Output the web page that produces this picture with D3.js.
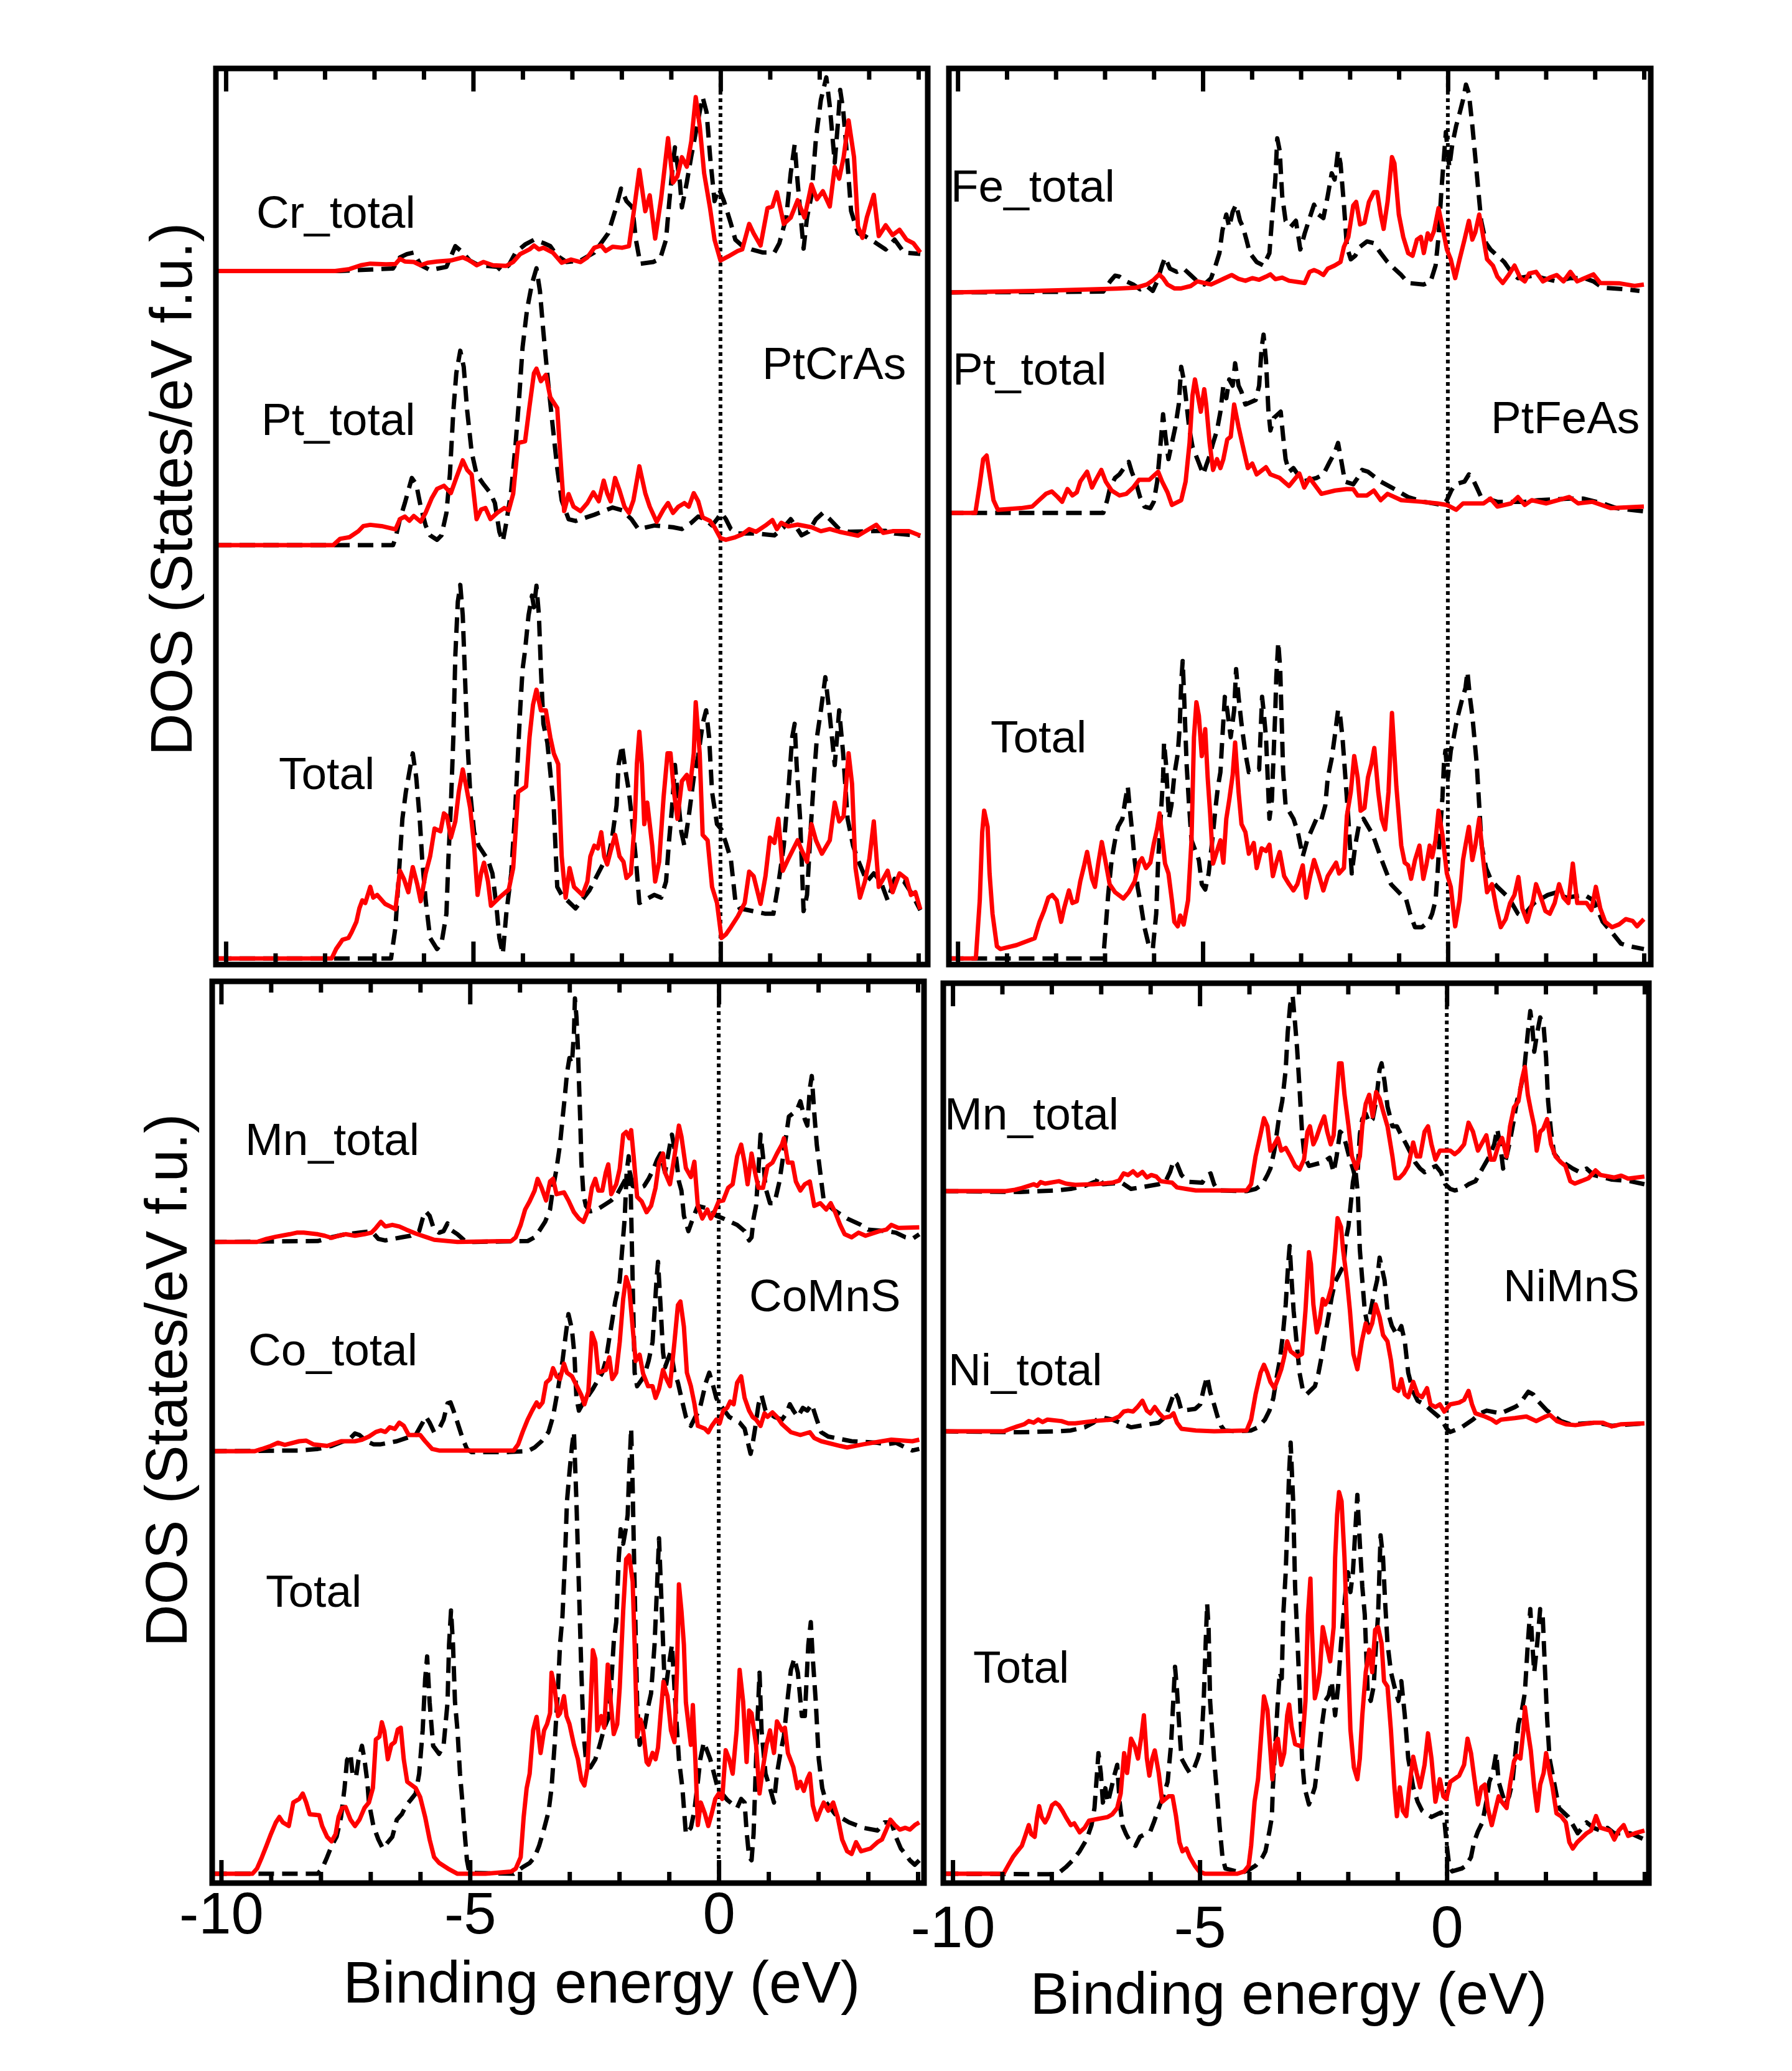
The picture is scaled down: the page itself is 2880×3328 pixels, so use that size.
<!DOCTYPE html>
<html><head><meta charset="utf-8">
<script src="https://cdn.jsdelivr.net/npm/d3@7"></script>
<style>body{margin:0;background:#fff}svg{display:block}text{font-family:"Liberation Sans",Arial,Helvetica,sans-serif}</style>
</head><body>
<svg id="c" width="2880" height="3328"></svg>
<script>
// ---------- tick values ----------
const energyTicks = d3.range(-10, 5);
const energyMajor = [-10, -5, 0];
const energyLabels = [-10, -5, 0];

// ---------- curve labels / compounds ----------
const compounds = ["PtCrAs", "PtFeAs", "CoMnS", "NiMnS"];
const curveNames = [["Cr_total","Pt_total","Total"],["Fe_total","Pt_total","Total"],["Mn_total","Co_total","Total"],["Mn_total","Ni_total","Total"]];
// stack offsets (percent of panel height) of each curve pair
const offsPtCrAs = [77.4, 46.8, 0.67];
const offsPtFeAs = [75.0, 50.4, 0.67];
const offsCoMnS  = [71.1, 47.9, 1.03];
const offsNiMnS  = [76.9, 50.2, 1.04];

// ---------- PtCrAs ----------
const crRed = [[-10.2,0],[-7.79,0],[-7.5,0.21],[-7.27,0.64],[-7.08,0.82],[-6.76,0.74],[-6.57,0.78],[-6.48,1.35],[-6.38,1.06],[-6.2,1.0],[-6.06,0.64],[-5.92,0.92],[-5.73,1.06],[-5.45,1.17],[-5.21,1.52],[-5.07,1.17],[-4.93,0.64],[-4.79,1.0],[-4.6,0.64],[-4.33,0.57],[-4.19,1.0],[-4.05,1.88],[-3.86,2.41],[-3.77,2.84],[-3.67,2.41],[-3.58,2.59],[-3.39,2.06],[-3.21,0.92],[-3.02,1.28],[-2.83,1.0],[-2.69,1.52],[-2.55,2.59],[-2.41,2.84],[-2.32,2.23],[-2.18,2.7],[-1.99,2.59],[-1.85,2.77],[-1.76,6.31],[-1.64,11.28],[-1.52,6.67],[-1.43,8.44],[-1.32,3.62],[-1.2,8.08],[-1.06,14.82],[-0.96,9.86],[-0.87,10.57],[-0.78,12.7],[-0.68,11.63],[-0.59,14.47],[-0.5,19.4],[-0.42,16.2],[-0.33,10.9],[-0.21,7.0],[-0.12,3.5],[0,1.17],[0.16,1.63],[0.35,2.23],[0.44,2.41],[0.58,5.25],[0.67,4.2],[0.81,2.84],[0.95,7.0],[1.05,7.2],[1.14,8.8],[1.28,5.25],[1.42,5.96],[1.56,7.9],[1.7,5.96],[1.84,9.65],[1.95,8.0],[2.07,8.9],[2.21,7.2],[2.31,11.6],[2.4,10.3],[2.49,12.7],[2.59,16.8],[2.7,12.7],[2.78,4.96],[2.87,3.7],[2.96,6.0],[3.1,8.5],[3.2,3.9],[3.34,5.1],[3.48,4.0],[3.62,4.6],[3.76,3.5],[3.9,3.1],[4.04,2.07]];
const crBlack = [[-10.2,0],[-7.69,0],[-6.62,0.28],[-6.48,1.52],[-6.34,1.88],[-6.2,2.06],[-6.06,0.64],[-5.87,0.1],[-5.54,0.46],[-5.36,2.77],[-5.21,2.06],[-5.07,1.17],[-4.89,0.64],[-4.51,0.46],[-4.42,0],[-4.28,0.64],[-4.14,2.06],[-3.95,2.95],[-3.77,3.48],[-3.58,3.12],[-3.44,2.77],[-3.3,1.7],[-3.11,1.0],[-2.83,1.17],[-2.55,2.06],[-2.27,4.2],[-2.13,6.7],[-2.01,9.2],[-1.9,7.8],[-1.78,7.1],[-1.71,3.5],[-1.62,0.8],[-1.36,1.0],[-1.22,1.35],[-1.1,3.5],[-1.04,7.4],[-0.96,12.0],[-0.92,13.8],[-0.82,9.9],[-0.78,7.1],[-0.68,9.9],[-0.59,12.8],[-0.45,16.9],[-0.36,19.4],[-0.28,17.7],[-0.21,12.8],[-0.12,7.8],[-0.03,9.2],[0.07,7.8],[0.21,5.3],[0.3,3.5],[0.44,2.8],[0.63,2.4],[0.86,2.06],[1.09,2.06],[1.19,3.1],[1.33,5.96],[1.42,10.9],[1.5,14.1],[1.56,9.9],[1.64,4.96],[1.68,2.5],[1.75,5.96],[1.84,8.4],[1.93,14.8],[2.03,19.1],[2.14,21.6],[2.21,18.4],[2.31,12.1],[2.38,16.9],[2.42,20.2],[2.48,18.0],[2.54,14.1],[2.64,6.7],[2.78,4.2],[2.92,3.9],[3.15,3.1],[3.34,2.4],[3.52,3.5],[3.71,2.06],[4.04,1.9]];
const ptCrRed = [[-10.2,0],[-7.83,0],[-7.69,0.71],[-7.5,0.89],[-7.32,1.56],[-7.22,2.13],[-7.08,2.27],[-6.85,2.13],[-6.57,1.77],[-6.48,2.91],[-6.38,3.19],[-6.29,2.73],[-6.2,3.26],[-6.06,2.62],[-5.96,3.62],[-5.84,5.21],[-5.73,6.28],[-5.59,6.63],[-5.45,5.82],[-5.34,7.52],[-5.21,9.47],[-5.12,8.4],[-5.03,7.87],[-4.93,2.91],[-4.84,3.97],[-4.75,4.15],[-4.65,2.91],[-4.51,3.62],[-4.37,4.15],[-4.28,3.9],[-4.19,5.74],[-4.09,11.4],[-3.95,11.6],[-3.86,15.5],[-3.77,19.2],[-3.72,19.7],[-3.63,18.3],[-3.53,19.0],[-3.44,16.5],[-3.3,15.3],[-3.21,7.7],[-3.16,3.8],[-3.07,5.7],[-2.97,4.3],[-2.83,3.8],[-2.69,4.7],[-2.57,5.9],[-2.46,4.9],[-2.36,7.2],[-2.29,5.8],[-2.22,4.9],[-2.13,7.5],[-2.04,6.1],[-1.94,4.3],[-1.85,3.6],[-1.76,5.0],[-1.64,8.8],[-1.52,5.8],[-1.43,4.3],[-1.29,2.6],[-1.15,4.0],[-1.06,4.7],[-0.96,3.6],[-0.85,4.3],[-0.73,4.7],[-0.64,4.3],[-0.54,5.8],[-0.45,4.9],[-0.36,3.1],[-0.21,2.7],[-0.12,2.0],[0,0.78],[0.11,0.6],[0.3,0.89],[0.44,1.2],[0.58,1.8],[0.72,1.5],[0.91,2.2],[1.05,2.8],[1.14,1.8],[1.23,2.5],[1.37,2.1],[1.56,2.3],[1.84,2.0],[2.03,1.56],[2.21,1.8],[2.4,1.5],[2.78,1.06],[2.96,1.66],[3.15,2.27],[3.29,1.38],[3.48,1.56],[3.81,1.56],[4.04,1.06]];
const ptCrBlack = [[-10.2,0],[-6.62,0],[-6.57,0.78],[-6.48,2.9],[-6.38,4.7],[-6.24,7.5],[-6.15,6.8],[-6.06,4.3],[-5.96,2.2],[-5.87,1.1],[-5.73,0.6],[-5.64,1.1],[-5.54,3.6],[-5.47,7.9],[-5.4,15.0],[-5.34,19.2],[-5.26,21.7],[-5.19,19.9],[-5.12,15.0],[-5.03,10.4],[-4.93,7.9],[-4.79,6.8],[-4.65,5.8],[-4.56,4.7],[-4.47,1.5],[-4.4,0.4],[-4.33,2.5],[-4.23,6.1],[-4.14,11.4],[-4.07,16.4],[-4.0,22.1],[-3.91,26.3],[-3.81,29.2],[-3.72,30.9],[-3.65,28.4],[-3.58,23.8],[-3.49,18.5],[-3.39,13.2],[-3.3,8.6],[-3.21,5.0],[-3.07,2.9],[-2.93,2.7],[-2.55,3.4],[-2.18,4.2],[-1.99,3.9],[-1.8,2.9],[-1.66,1.8],[-1.33,2.2],[-0.96,2.0],[-0.78,1.8],[-0.59,2.5],[-0.45,3.2],[-0.31,2.9],[-0.17,2.2],[-0.07,2.9],[0.02,3.6],[0.11,2.9],[0.21,1.8],[0.35,1.3],[0.72,1.3],[1.09,1.1],[1.28,2.0],[1.42,2.9],[1.51,2.2],[1.64,1.1],[1.78,1.5],[1.93,2.9],[2.07,3.6],[2.21,2.9],[2.4,1.8],[2.59,1.5],[3.34,1.6],[3.52,1.3],[4.04,1.06]];
const totCrRed = [[-10.2,0],[-7.86,0],[-7.77,1.06],[-7.64,2.1],[-7.52,2.3],[-7.46,2.9],[-7.36,4.1],[-7.3,5.6],[-7.24,6.5],[-7.18,6.2],[-7.08,8.0],[-7.02,6.8],[-6.94,7.1],[-6.78,6.1],[-6.67,5.8],[-6.57,5.5],[-6.48,9.8],[-6.4,8.9],[-6.31,7.4],[-6.22,10.2],[-6.13,8.3],[-6.06,6.4],[-5.96,9.5],[-5.87,11.4],[-5.78,14.5],[-5.66,14.2],[-5.59,16.2],[-5.53,15.9],[-5.45,13.5],[-5.36,15.3],[-5.29,18.6],[-5.21,21.1],[-5.14,19.2],[-5.06,16.8],[-4.98,12.6],[-4.91,7.1],[-4.84,9.5],[-4.78,10.7],[-4.7,8.6],[-4.64,5.9],[-4.47,6.8],[-4.28,7.7],[-4.19,10.1],[-4.09,18.6],[-3.93,19.2],[-3.86,24.7],[-3.79,28.3],[-3.72,30.0],[-3.63,27.7],[-3.53,27.7],[-3.44,24.7],[-3.37,22.9],[-3.28,21.7],[-3.21,11.4],[-3.13,6.8],[-3.05,10.1],[-2.96,8.0],[-2.79,7.1],[-2.69,8.6],[-2.63,11.4],[-2.55,12.6],[-2.48,12.3],[-2.41,14.1],[-2.35,11.4],[-2.29,10.5],[-2.22,12.0],[-2.13,13.8],[-2.04,11.4],[-1.96,10.8],[-1.9,9.0],[-1.81,9.5],[-1.73,15.6],[-1.69,21.7],[-1.64,25.3],[-1.59,21.7],[-1.54,15.0],[-1.48,17.4],[-1.38,12.6],[-1.32,8.6],[-1.24,10.8],[-1.15,18.0],[-1.07,22.9],[-1.01,22.9],[-0.94,18.6],[-0.87,15.6],[-0.78,19.8],[-0.68,20.5],[-0.62,18.9],[-0.54,22.9],[-0.5,28.6],[-0.42,22.9],[-0.36,13.8],[-0.26,13.2],[-0.17,8.0],[-0.07,6.2],[0.02,2.3],[0.11,2.7],[0.21,3.5],[0.35,4.7],[0.49,6.2],[0.58,9.7],[0.67,9.2],[0.81,6.1],[0.91,9.2],[1.0,13.5],[1.09,12.9],[1.17,15.6],[1.26,9.8],[1.37,11.1],[1.56,13.2],[1.65,12.0],[1.75,10.8],[1.84,15.0],[1.93,13.2],[2.05,11.7],[2.21,13.2],[2.31,17.4],[2.4,15.3],[2.49,15.9],[2.59,22.9],[2.66,19.5],[2.73,10.1],[2.82,6.8],[2.92,8.6],[3.01,11.1],[3.1,15.3],[3.2,8.0],[3.29,8.9],[3.38,9.8],[3.48,7.4],[3.62,9.5],[3.76,8.9],[3.85,7.1],[3.94,7.4],[4.04,5.5]];
const totCrBlack = [[-10.2,0],[-6.66,0],[-6.57,3.5],[-6.5,9.5],[-6.43,15.6],[-6.36,18.6],[-6.29,20.8],[-6.22,22.9],[-6.15,20.2],[-6.08,15.6],[-6.03,11.1],[-5.96,6.5],[-5.87,2.3],[-5.73,1.06],[-5.64,1.7],[-5.54,5.0],[-5.5,11.1],[-5.45,17.1],[-5.4,24.7],[-5.36,33.8],[-5.31,39.8],[-5.26,41.7],[-5.21,38.3],[-5.17,32.3],[-5.12,24.7],[-5.06,18.6],[-4.98,14.1],[-4.89,12.6],[-4.7,11.0],[-4.61,9.5],[-4.53,5.9],[-4.47,2.3],[-4.4,0.5],[-4.33,5.0],[-4.23,9.5],[-4.16,15.6],[-4.09,23.2],[-4.05,27.7],[-4.0,32.3],[-3.95,34.4],[-3.88,38.3],[-3.81,40.5],[-3.77,39.2],[-3.72,41.6],[-3.67,38.3],[-3.63,32.3],[-3.58,26.2],[-3.5,24.1],[-3.44,20.8],[-3.37,16.8],[-3.3,8.0],[-3.21,7.1],[-2.93,5.6],[-2.65,7.6],[-2.36,10.7],[-2.27,11.3],[-2.2,13.1],[-2.1,17.1],[-2.06,21.6],[-1.99,23.8],[-1.92,21.0],[-1.85,18.6],[-1.79,15.6],[-1.71,11.1],[-1.64,6.2],[-1.34,7.1],[-1.2,6.8],[-1.1,8.6],[-1.04,13.1],[-0.98,16.8],[-0.92,21.6],[-0.87,18.6],[-0.79,14.1],[-0.73,12.6],[-0.64,15.9],[-0.54,20.2],[-0.45,22.6],[-0.36,26.2],[-0.29,27.7],[-0.23,24.7],[-0.17,18.6],[-0.07,15.0],[0.02,14.4],[0.11,12.9],[0.21,11.1],[0.3,6.5],[0.39,5.6],[0.91,5.0],[1.07,5.0],[1.17,8.3],[1.28,12.6],[1.37,18.6],[1.45,24.7],[1.5,26.2],[1.54,21.6],[1.61,15.6],[1.68,5.3],[1.75,7.1],[1.82,14.1],[1.89,20.2],[1.95,24.7],[2.03,27.7],[2.12,31.4],[2.21,27.1],[2.31,21.6],[2.4,27.7],[2.48,22.9],[2.57,15.6],[2.68,12.6],[2.78,11.0],[2.87,9.8],[2.96,8.6],[3.1,9.5],[3.24,8.6],[3.38,6.5],[3.52,8.9],[3.71,8.6],[3.85,7.4],[4.04,5.4]];

// ---------- PtFeAs ----------
const feRed = [[-10.2,0],[-8.43,0.18],[-7.5,0.32],[-6.75,0.43],[-6.37,0.53],[-6.14,0.89],[-6.0,1.42],[-5.89,2.02],[-5.81,1.6],[-5.72,0.89],[-5.58,0.46],[-5.44,0.46],[-5.25,0.71],[-5.11,1.24],[-4.97,1.06],[-4.83,0.89],[-4.69,1.24],[-4.55,1.6],[-4.41,1.95],[-4.27,1.52],[-4.13,1.31],[-3.99,1.6],[-3.85,1.42],[-3.71,1.77],[-3.62,2.02],[-3.52,1.49],[-3.38,1.66],[-3.24,1.31],[-2.92,1.06],[-2.82,2.3],[-2.73,2.5],[-2.64,2.3],[-2.54,1.95],[-2.45,2.66],[-2.31,3.0],[-2.19,3.4],[-2.12,5.1],[-2.03,6.2],[-1.93,9.7],[-1.87,10.1],[-1.79,7.6],[-1.7,7.8],[-1.61,10.1],[-1.51,11.2],[-1.44,11.2],[-1.37,8.7],[-1.31,7.1],[-1.23,10.1],[-1.14,15.1],[-1.09,14.4],[-1.0,8.7],[-0.91,6.2],[-0.81,4.4],[-0.72,4.1],[-0.63,5.9],[-0.55,6.2],[-0.49,4.4],[-0.41,6.6],[-0.35,5.9],[-0.28,6.9],[-0.19,9.4],[-0.11,7.3],[-0.02,4.8],[0.06,3.7],[0.15,1.6],[0.24,3.7],[0.34,5.9],[0.43,8.0],[0.5,5.9],[0.56,6.7],[0.64,8.7],[0.71,6.6],[0.8,3.7],[0.92,3.0],[1.01,1.77],[1.12,1.06],[1.24,1.95],[1.36,3.0],[1.48,1.6],[1.57,1.24],[1.66,2.13],[1.8,2.3],[1.94,1.24],[2.08,1.66],[2.22,1.95],[2.36,1.24],[2.5,2.3],[2.64,1.24],[2.97,2.02],[3.11,1.06],[3.49,1.03],[3.81,0.74],[4.0,0.89]];
const feBlack = [[-10.2,0],[-7.03,0.1],[-6.89,1.24],[-6.79,1.88],[-6.7,1.77],[-6.56,1.24],[-6.42,0.89],[-6.28,0.35],[-6.14,0.71],[-6.02,0.18],[-5.93,1.24],[-5.83,3.0],[-5.77,3.9],[-5.67,2.66],[-5.53,2.3],[-5.39,2.66],[-5.25,1.95],[-5.11,1.24],[-4.97,0.89],[-4.83,1.6],[-4.74,3.0],[-4.66,4.4],[-4.6,6.9],[-4.52,8.7],[-4.46,7.3],[-4.39,9.0],[-4.32,9.8],[-4.24,8.0],[-4.18,7.3],[-4.11,5.9],[-4.04,4.4],[-3.9,3.4],[-3.76,3.0],[-3.64,4.4],[-3.59,8.0],[-3.52,12.6],[-3.48,17.2],[-3.43,15.8],[-3.38,10.8],[-3.31,8.0],[-3.21,7.3],[-3.1,8.0],[-3.01,4.8],[-2.92,6.6],[-2.82,8.3],[-2.73,9.8],[-2.64,8.7],[-2.54,8.3],[-2.45,10.8],[-2.37,13.3],[-2.31,12.6],[-2.24,15.8],[-2.19,14.4],[-2.12,9.8],[-2.06,5.1],[-1.98,3.7],[-1.89,4.1],[-1.79,5.1],[-1.65,5.7],[-1.51,5.5],[-1.37,4.4],[-1.23,3.4],[-1.09,2.66],[-0.95,1.95],[-0.81,1.06],[-0.49,0.89],[-0.35,1.24],[-0.25,3.0],[-0.19,6.2],[-0.13,11.5],[-0.08,15.1],[-0.04,17.9],[0.03,14.0],[0.09,16.5],[0.17,18.6],[0.24,20.0],[0.31,21.5],[0.37,23.2],[0.43,22.2],[0.5,18.6],[0.56,15.1],[0.62,11.5],[0.68,8.0],[0.78,5.5],[0.87,4.8],[1.01,4.1],[1.15,3.4],[1.29,2.3],[1.43,1.6],[1.76,1.88],[1.94,1.6],[2.22,1.24],[2.5,1.6],[2.79,1.6],[2.97,1.24],[3.16,0.53],[3.63,0.35],[3.91,0.18]];
const ptFeRed = [[-10.2,0],[-9.64,0],[-9.55,3.2],[-9.48,6.0],[-9.41,6.4],[-9.35,4.3],[-9.27,1.42],[-9.18,0.35],[-8.71,0.53],[-8.48,0.71],[-8.34,1.42],[-8.2,2.13],[-8.08,2.4],[-7.96,1.77],[-7.87,1.24],[-7.76,2.66],[-7.66,1.95],[-7.57,2.3],[-7.5,3.5],[-7.36,4.6],[-7.26,2.84],[-7.2,3.5],[-7.07,4.8],[-6.98,3.5],[-6.86,2.5],[-6.7,1.95],[-6.56,2.13],[-6.42,2.84],[-6.3,3.7],[-6.09,3.7],[-5.91,4.6],[-5.83,3.5],[-5.72,2.3],[-5.63,0.89],[-5.44,1.42],[-5.35,3.5],[-5.27,7.8],[-5.21,13.1],[-5.16,14.9],[-5.09,12.8],[-5.04,11.3],[-4.97,13.8],[-4.93,12.1],[-4.86,7.8],[-4.79,4.8],[-4.71,6.0],[-4.64,5.0],[-4.58,6.0],[-4.5,8.2],[-4.43,8.5],[-4.36,12.1],[-4.27,9.6],[-4.18,7.4],[-4.08,5.0],[-3.99,5.5],[-3.9,4.3],[-3.71,5.1],[-3.62,4.3],[-3.43,3.9],[-3.24,3.0],[-3.03,4.4],[-2.93,2.84],[-2.82,3.9],[-2.58,2.13],[-2.3,2.5],[-2.07,2.66],[-1.93,2.66],[-1.84,1.95],[-1.65,1.95],[-1.51,2.5],[-1.37,1.42],[-1.23,2.13],[-0.95,1.42],[-0.53,1.24],[-0.21,1.06],[-0.02,0.89],[0.17,0.35],[0.31,1.06],[0.73,1.06],[0.87,1.6],[1.01,0.71],[1.29,1.06],[1.43,1.77],[1.57,0.89],[1.71,1.42],[2.01,1.06],[2.24,1.42],[2.48,1.77],[2.66,1.06],[2.95,1.24],[3.33,0.53],[4.0,0.71]];
const ptFeBlack = [[-10.2,0],[-7.03,0],[-6.95,1.42],[-6.89,2.84],[-6.79,3.9],[-6.7,4.3],[-6.61,5.0],[-6.51,5.7],[-6.45,4.6],[-6.37,3.5],[-6.28,1.77],[-6.19,0.71],[-6.07,0.53],[-6.0,1.24],[-5.93,3.5],[-5.86,7.8],[-5.81,11.0],[-5.76,8.5],[-5.7,6.0],[-5.63,7.8],[-5.56,9.6],[-5.49,12.1],[-5.44,16.3],[-5.39,14.9],[-5.35,13.1],[-5.28,9.6],[-5.21,7.4],[-5.11,6.0],[-4.99,4.3],[-4.93,5.3],[-4.86,6.4],[-4.79,7.8],[-4.71,9.2],[-4.64,11.3],[-4.58,14.2],[-4.52,12.8],[-4.46,14.9],[-4.39,14.2],[-4.34,16.7],[-4.27,14.2],[-4.21,13.5],[-4.13,12.1],[-3.92,12.6],[-3.85,14.2],[-3.8,18.4],[-3.76,19.9],[-3.71,17.0],[-3.66,11.3],[-3.62,9.2],[-3.55,10.6],[-3.41,11.3],[-3.36,8.5],[-3.31,6.0],[-3.24,4.6],[-3.15,5.0],[-2.96,3.5],[-2.68,3.9],[-2.54,4.3],[-2.41,5.7],[-2.31,6.7],[-2.24,7.8],[-2.17,5.7],[-2.1,3.5],[-1.93,3.2],[-1.84,3.9],[-1.75,4.8],[-1.63,4.6],[-1.37,3.5],[-1.09,2.66],[-0.81,1.77],[-0.49,1.24],[-0.11,0.89],[-0.02,1.42],[0.07,2.5],[0.15,3.2],[0.34,3.5],[0.43,4.3],[0.5,3.9],[0.59,2.84],[0.68,1.77],[1.01,1.24],[1.57,1.24],[1.85,1.42],[2.48,1.6],[2.76,1.6],[3.16,1.06],[3.44,0.53],[4.0,0.18]];
const totFeRed = [[-10.2,0],[-9.63,0],[-9.55,6.5],[-9.5,14.1],[-9.46,16.5],[-9.39,14.7],[-9.35,9.5],[-9.29,5.0],[-9.2,1.36],[-9.13,1.06],[-8.8,1.5],[-8.43,2.27],[-8.33,4.1],[-8.24,5.3],[-8.15,6.8],[-8.07,7.1],[-7.98,6.5],[-7.89,4.1],[-7.83,5.6],[-7.73,7.6],[-7.66,6.2],[-7.57,6.4],[-7.5,8.6],[-7.42,10.4],[-7.36,11.9],[-7.26,8.9],[-7.2,8.0],[-7.13,10.7],[-7.06,13.0],[-6.99,11.0],[-6.9,8.3],[-6.79,7.4],[-6.62,6.7],[-6.51,7.4],[-6.39,8.6],[-6.3,10.7],[-6.24,11.2],[-6.16,10.1],[-6.07,10.7],[-6.0,12.8],[-5.93,14.5],[-5.88,16.2],[-5.83,13.6],[-5.77,10.6],[-5.7,9.5],[-5.63,6.5],[-5.58,4.1],[-5.51,3.6],[-5.46,4.8],[-5.39,3.8],[-5.3,6.5],[-5.23,13.2],[-5.18,24.7],[-5.13,28.6],[-5.08,27.1],[-5.02,22.6],[-4.95,25.6],[-4.9,20.2],[-4.85,16.2],[-4.79,10.6],[-4.71,12.0],[-4.64,13.2],[-4.58,10.7],[-4.52,15.6],[-4.46,17.7],[-4.39,20.5],[-4.34,24.1],[-4.27,18.6],[-4.21,15.0],[-4.13,14.1],[-4.06,11.7],[-3.96,12.9],[-3.9,10.1],[-3.8,12.3],[-3.71,12.0],[-3.64,12.7],[-3.57,9.2],[-3.5,10.7],[-3.43,11.9],[-3.34,9.2],[-3.24,8.3],[-3.15,7.6],[-3.07,8.3],[-3.01,9.5],[-2.96,10.4],[-2.89,6.8],[-2.82,8.9],[-2.73,11.0],[-2.64,9.5],[-2.54,7.6],[-2.45,9.2],[-2.28,10.7],[-2.22,9.5],[-2.12,10.1],[-2.06,15.9],[-1.98,18.6],[-1.91,22.6],[-1.84,20.2],[-1.78,16.5],[-1.7,16.8],[-1.63,20.2],[-1.56,21.7],[-1.5,23.5],[-1.42,18.6],[-1.35,15.6],[-1.28,14.4],[-1.21,18.6],[-1.14,27.4],[-1.05,19.2],[-0.95,12.6],[-0.88,10.7],[-0.81,10.4],[-0.75,8.9],[-0.67,11.0],[-0.58,12.6],[-0.5,8.9],[-0.44,10.4],[-0.37,12.6],[-0.32,11.3],[-0.25,13.2],[-0.19,16.5],[-0.11,13.8],[-0.02,9.5],[0.06,8.0],[0.15,3.6],[0.24,6.5],[0.31,11.0],[0.36,12.6],[0.43,14.7],[0.5,11.0],[0.56,12.6],[0.64,15.6],[0.71,11.6],[0.8,7.4],[0.9,8.3],[0.99,5.6],[1.08,3.5],[1.18,4.4],[1.27,6.2],[1.36,7.1],[1.44,9.1],[1.52,5.6],[1.62,4.1],[1.74,6.5],[1.8,8.3],[1.9,6.8],[1.99,5.3],[2.08,5.0],[2.18,6.2],[2.27,8.3],[2.36,6.8],[2.46,6.2],[2.55,10.6],[2.64,6.2],[2.83,6.2],[2.93,5.4],[3.02,8.0],[3.11,5.6],[3.21,4.1],[3.35,3.5],[3.49,3.8],[3.63,4.4],[3.77,4.2],[3.86,3.6],[4.0,4.4]];
const totFeBlack = [[-10.2,0],[-7.03,0],[-6.98,3.5],[-6.93,7.1],[-6.86,11.0],[-6.79,13.2],[-6.73,14.7],[-6.64,15.6],[-6.58,17.7],[-6.53,19.2],[-6.49,16.8],[-6.44,14.1],[-6.39,11.0],[-6.33,8.0],[-6.26,5.9],[-6.19,3.5],[-6.11,1.67],[-6.02,1.06],[-5.95,5.0],[-5.91,11.0],[-5.86,15.6],[-5.81,20.2],[-5.79,24.1],[-5.75,21.7],[-5.69,15.6],[-5.64,17.1],[-5.58,20.5],[-5.51,22.9],[-5.47,25.9],[-5.44,30.8],[-5.41,33.2],[-5.38,29.2],[-5.33,21.7],[-5.28,17.1],[-5.23,13.2],[-5.08,11.0],[-5.02,8.3],[-4.95,7.7],[-4.88,9.5],[-4.8,13.5],[-4.74,16.8],[-4.69,19.2],[-4.64,20.8],[-4.6,24.7],[-4.55,29.2],[-4.5,27.7],[-4.43,24.7],[-4.36,27.7],[-4.32,32.3],[-4.27,29.2],[-4.21,26.2],[-4.13,22.9],[-4.06,20.8],[-3.85,21.1],[-3.79,29.2],[-3.76,27.7],[-3.71,24.7],[-3.64,15.6],[-3.59,17.7],[-3.52,27.7],[-3.5,31.4],[-3.46,35.3],[-3.42,32.3],[-3.36,20.8],[-3.31,17.1],[-3.15,15.6],[-3.06,14.1],[-2.96,11.4],[-2.87,13.2],[-2.68,15.6],[-2.59,15.3],[-2.5,17.1],[-2.45,20.2],[-2.37,22.3],[-2.31,24.7],[-2.24,27.7],[-2.21,27.7],[-2.15,24.7],[-2.09,20.2],[-2.03,15.6],[-1.96,9.5],[-1.89,12.6],[-1.81,15.0],[-1.72,15.6],[-1.53,13.8],[-1.35,11.0],[-1.16,8.3],[-0.95,7.1],[-0.86,6.8],[-0.77,5.0],[-0.67,3.5],[-0.53,3.5],[-0.39,4.1],[-0.32,5.0],[-0.25,6.5],[-0.21,9.5],[-0.16,14.1],[-0.11,18.0],[-0.08,21.7],[-0.05,23.2],[0.0,20.2],[0.06,23.2],[0.12,24.7],[0.17,26.2],[0.22,27.4],[0.29,28.9],[0.36,30.2],[0.4,32.0],[0.45,29.2],[0.5,27.1],[0.54,24.7],[0.59,21.7],[0.64,17.1],[0.69,12.6],[0.78,10.1],[0.87,8.9],[1.01,8.0],[1.24,6.8],[1.43,5.0],[1.52,4.7],[1.62,5.3],[1.76,6.2],[2.04,7.1],[2.22,7.4],[2.41,6.8],[2.79,7.1],[2.97,6.5],[3.16,4.1],[3.35,2.9],[3.53,1.67],[3.72,1.36],[4.0,1.06]];

// ---------- CoMnS ----------
const mnCoRed = [[-10.2,0],[-9.28,0],[-9.09,0.34],[-8.9,0.58],[-8.62,0.86],[-8.48,1.03],[-8.34,1.03],[-8.06,0.86],[-7.92,0.69],[-7.78,0.45],[-7.64,0.69],[-7.5,0.86],[-7.31,0.69],[-7.12,0.86],[-6.98,1.03],[-6.89,1.55],[-6.79,2.23],[-6.7,1.72],[-6.56,1.89],[-6.42,1.72],[-6.28,1.37],[-6.09,0.93],[-5.9,0.58],[-5.72,0.24],[-5.25,0],[-4.17,0.1],[-4.08,0.52],[-3.98,1.89],[-3.89,3.6],[-3.8,4.5],[-3.7,5.7],[-3.64,7.0],[-3.56,6.0],[-3.47,4.6],[-3.39,6.7],[-3.33,7.0],[-3.26,5.3],[-3.11,5.5],[-3.02,4.6],[-2.91,3.3],[-2.81,2.6],[-2.72,2.23],[-2.62,3.6],[-2.55,6.0],[-2.48,7.0],[-2.42,5.7],[-2.34,5.7],[-2.27,7.7],[-2.22,8.6],[-2.16,5.3],[-2.06,6.4],[-1.99,8.1],[-1.92,11.9],[-1.86,12.2],[-1.8,11.5],[-1.76,12.4],[-1.71,9.5],[-1.64,5.0],[-1.55,4.5],[-1.45,3.3],[-1.36,4.0],[-1.27,6.0],[-1.2,8.8],[-1.12,9.8],[-1.08,7.7],[-0.98,6.4],[-0.89,9.5],[-0.8,12.9],[-0.75,11.7],[-0.66,8.2],[-0.56,7.2],[-0.49,8.9],[-0.42,4.0],[-0.33,2.6],[-0.23,3.6],[-0.16,2.6],[-0.09,3.3],[0,4.5],[0.09,4.6],[0.19,6.0],[0.28,6.4],[0.37,9.5],[0.45,10.8],[0.52,8.8],[0.58,6.4],[0.66,9.8],[0.73,7.7],[0.8,6.0],[0.89,6.0],[0.98,8.4],[1.08,8.8],[1.17,9.8],[1.27,10.8],[1.31,11.5],[1.39,8.8],[1.48,8.8],[1.55,6.7],[1.64,5.7],[1.73,6.4],[1.83,6.7],[1.92,4.0],[2.04,4.3],[2.16,3.6],[2.25,4.3],[2.34,3.3],[2.44,1.89],[2.53,0.86],[2.67,0.52],[2.81,1.03],[2.95,0.69],[3.23,1.2],[3.37,1.37],[3.47,1.89],[3.61,1.55],[4.03,1.62]];
const mnCoBlack = [[-10.2,0],[-8.06,0.1],[-7.78,0.52],[-7.5,0.86],[-7.22,1.03],[-6.98,1.2],[-6.84,0.34],[-6.7,0.17],[-6.37,0.52],[-6.19,0.69],[-6.02,1.2],[-5.95,2.6],[-5.89,3.4],[-5.81,2.9],[-5.72,1.37],[-5.62,1.03],[-5.53,1.2],[-5.45,2.06],[-5.39,1.37],[-5.25,0.86],[-5.11,0.17],[-4.97,0],[-3.84,0.1],[-3.7,0.52],[-3.61,1.2],[-3.49,2.23],[-3.39,3.6],[-3.33,6.0],[-3.26,8.1],[-3.19,10.8],[-3.14,13.6],[-3.09,16.3],[-3.05,18.7],[-3.0,20.4],[-2.95,19.8],[-2.91,23.2],[-2.89,27.0],[-2.86,25.0],[-2.83,21.5],[-2.81,18.0],[-2.78,12.9],[-2.76,8.8],[-2.72,5.3],[-2.67,4.0],[-2.58,3.4],[-2.44,3.6],[-2.3,4.1],[-2.16,4.6],[-2.04,5.3],[-1.97,6.0],[-1.9,6.7],[-1.83,7.4],[-1.78,7.6],[-1.73,6.2],[-1.59,6.0],[-1.5,6.2],[-1.41,7.0],[-1.31,8.1],[-1.24,9.1],[-1.17,9.8],[-1.08,7.7],[-0.98,10.8],[-0.94,11.9],[-0.86,9.5],[-0.8,6.7],[-0.75,5.7],[-0.7,2.9],[-0.61,1.2],[-0.52,2.6],[-0.42,4.0],[-0.14,3.6],[-0.05,2.9],[0.09,2.6],[0.37,1.89],[0.52,1.2],[0.61,0.17],[0.66,0.52],[0.7,2.6],[0.75,4.0],[0.8,8.1],[0.84,11.9],[0.89,9.5],[0.94,6.0],[1.03,4.3],[1.12,4.3],[1.22,6.7],[1.31,10.1],[1.41,13.9],[1.5,14.3],[1.59,14.9],[1.64,15.6],[1.73,13.6],[1.78,12.9],[1.83,17.0],[1.87,18.4],[1.92,14.3],[1.97,10.8],[2.04,7.7],[2.11,4.6],[2.3,3.6],[2.58,2.6],[2.86,1.89],[3.0,1.37],[3.37,1.2],[3.56,1.03],[3.75,0.52],[3.89,0.34],[4.03,0.86]];
const coRed = [[-10.2,0],[-9.32,0],[-9.18,0.24],[-9.0,0.58],[-8.86,0.93],[-8.72,0.69],[-8.43,1.1],[-8.29,1.17],[-8.15,0.76],[-7.87,0.58],[-7.59,1.1],[-7.31,1.1],[-7.17,1.27],[-7.03,1.62],[-6.89,2.13],[-6.79,2.3],[-6.7,2.13],[-6.61,2.65],[-6.51,2.47],[-6.42,3.16],[-6.33,2.82],[-6.23,1.79],[-6.0,1.79],[-5.9,1.1],[-5.76,0.24],[-5.62,0.07],[-4.12,0.07],[-4.03,0.76],[-3.94,2.13],[-3.84,3.5],[-3.75,4.5],[-3.66,5.4],[-3.61,4.9],[-3.54,5.4],[-3.47,7.6],[-3.39,8.0],[-3.33,9.2],[-3.26,8.3],[-3.19,8.0],[-3.11,9.7],[-3.05,8.7],[-2.95,8.3],[-2.86,7.3],[-2.76,6.2],[-2.7,5.2],[-2.62,6.6],[-2.55,13.1],[-2.48,12.0],[-2.42,8.7],[-2.27,9.0],[-2.2,10.4],[-2.14,8.0],[-2.06,8.7],[-1.99,12.1],[-1.92,16.9],[-1.86,19.3],[-1.8,18.2],[-1.73,13.7],[-1.67,10.0],[-1.59,10.7],[-1.52,8.6],[-1.42,7.2],[-1.33,7.2],[-1.27,5.9],[-1.2,6.9],[-1.12,9.0],[-1.05,8.0],[-0.98,7.2],[-0.89,12.1],[-0.82,16.2],[-0.77,16.6],[-0.7,13.8],[-0.64,8.7],[-0.56,7.2],[-0.49,5.3],[-0.42,2.8],[-0.28,2.5],[-0.21,2.1],[-0.14,2.8],[-0.05,3.5],[0.02,3.1],[0.09,4.5],[0.17,4.8],[0.23,5.5],[0.3,5.2],[0.37,7.6],[0.45,8.3],[0.52,5.9],[0.61,4.5],[0.68,3.8],[0.75,3.5],[0.84,2.8],[0.92,4.2],[0.98,3.8],[1.08,4.3],[1.17,3.8],[1.27,3.0],[1.45,2.1],[1.64,1.79],[1.83,2.1],[1.92,1.45],[2.06,1.1],[2.44,0.58],[2.58,0.41],[2.91,0.76],[3.28,1.1],[3.47,1.27],[3.89,1.1],[4.03,1.27]];
const coBlack = [[-10.2,0],[-8.43,0.07],[-8.06,0.24],[-7.78,0.58],[-7.54,1.1],[-7.4,1.45],[-7.31,1.96],[-7.22,1.79],[-7.08,1.1],[-6.94,0.76],[-6.79,0.76],[-6.47,1.1],[-6.28,1.45],[-6.09,1.79],[-5.95,3.16],[-5.89,3.85],[-5.81,3.16],[-5.72,2.1],[-5.62,2.47],[-5.53,3.5],[-5.45,5.3],[-5.39,5.4],[-5.33,4.5],[-5.25,3.16],[-5.15,1.45],[-5.06,0.24],[-4.97,-0.1],[-4.22,-0.1],[-3.84,0],[-3.7,0.41],[-3.56,1.1],[-3.42,2.13],[-3.33,3.85],[-3.23,6.9],[-3.14,10.0],[-3.07,13.1],[-3.02,15.2],[-2.95,13.5],[-2.9,10.7],[-2.86,5.9],[-2.81,4.5],[-2.74,5.2],[-2.53,6.9],[-2.34,8.7],[-2.27,10.0],[-2.2,12.5],[-2.14,14.5],[-2.08,16.6],[-1.99,18.9],[-1.94,22.4],[-1.89,25.8],[-1.85,31.0],[-1.81,32.7],[-1.77,29.2],[-1.73,18.9],[-1.69,8.7],[-1.64,7.2],[-1.5,8.3],[-1.41,10.0],[-1.33,12.1],[-1.29,15.5],[-1.25,19.0],[-1.22,21.0],[-1.17,16.2],[-1.12,11.0],[-1.08,9.3],[-0.96,11.1],[-0.89,8.7],[-0.82,7.6],[-0.75,5.9],[-0.66,3.8],[-0.56,2.8],[-0.47,3.8],[-0.39,4.5],[-0.33,5.9],[-0.26,7.6],[-0.19,8.7],[-0.11,7.2],[-0.05,5.9],[0.02,5.2],[0.21,3.8],[0.42,3.16],[0.52,2.5],[0.58,1.1],[0.64,-0.3],[0.68,0.76],[0.73,2.5],[0.8,5.2],[0.86,6.2],[0.94,4.5],[1.12,3.8],[1.27,3.5],[1.36,4.2],[1.43,5.2],[1.5,4.5],[1.59,3.8],[1.69,4.8],[1.78,4.5],[1.87,5.2],[1.97,3.5],[2.06,2.1],[2.2,1.62],[2.67,1.1],[3.19,0.93],[3.37,0.76],[3.56,0.93],[3.75,0.41],[3.89,0.07],[4.03,0.24]];
const totCoRed = [[-10.2,0],[-9.37,0],[-9.28,0.57],[-9.18,1.85],[-9.09,3.1],[-9.0,4.4],[-8.9,5.7],[-8.83,6.3],[-8.76,5.7],[-8.64,5.3],[-8.55,7.9],[-8.43,8.3],[-8.36,8.9],[-8.29,7.9],[-8.22,6.6],[-8.03,6.5],[-7.97,5.3],[-7.87,4.1],[-7.78,3.6],[-7.7,4.4],[-7.64,6.3],[-7.57,7.3],[-7.5,7.4],[-7.4,6.0],[-7.31,5.3],[-7.22,6.0],[-7.12,7.3],[-7.03,7.9],[-6.95,9.5],[-6.89,14.9],[-6.82,15.2],[-6.77,16.8],[-6.72,15.8],[-6.65,12.7],[-6.58,14.3],[-6.51,14.6],[-6.45,16.0],[-6.39,16.2],[-6.33,12.7],[-6.26,10.2],[-6.09,9.5],[-6.0,8.5],[-5.9,6.3],[-5.81,3.8],[-5.72,1.85],[-5.62,1.21],[-5.44,0.57],[-5.25,0],[-4.69,0],[-4.17,0.25],[-4.08,0.57],[-3.98,1.85],[-3.92,6.3],[-3.86,9.5],[-3.8,11.1],[-3.73,15.9],[-3.66,17.4],[-3.58,13.4],[-3.51,15.9],[-3.45,16.6],[-3.39,17.8],[-3.36,22.3],[-3.3,20.7],[-3.23,17.5],[-3.19,17.8],[-3.11,19.7],[-3.06,17.5],[-3.0,16.6],[-2.91,14.3],[-2.83,12.7],[-2.76,10.4],[-2.7,9.8],[-2.64,11.7],[-2.58,18.1],[-2.53,24.8],[-2.48,23.8],[-2.44,15.9],[-2.36,17.5],[-2.3,16.2],[-2.23,23.2],[-2.17,19.0],[-2.11,15.5],[-2.04,16.6],[-1.99,20.6],[-1.92,29.2],[-1.86,34.9],[-1.8,35.3],[-1.73,32.4],[-1.69,25.4],[-1.64,15.2],[-1.57,17.1],[-1.52,15.9],[-1.45,12.4],[-1.41,12.1],[-1.33,13.4],[-1.27,12.7],[-1.22,14.0],[-1.17,17.5],[-1.11,21.3],[-1.03,19.7],[-0.96,15.9],[-0.89,14.6],[-0.84,22.3],[-0.8,32.1],[-0.75,29.2],[-0.7,25.4],[-0.66,19.0],[-0.56,14.3],[-0.52,18.7],[-0.47,12.7],[-0.42,5.4],[-0.36,7.9],[-0.28,6.7],[-0.21,5.3],[-0.14,6.7],[-0.07,8.3],[0,8.9],[0.07,8.3],[0.14,13.7],[0.21,12.7],[0.28,11.1],[0.36,15.9],[0.42,22.6],[0.49,19.1],[0.56,12.4],[0.61,18.1],[0.66,17.8],[0.75,14.3],[0.82,8.9],[0.89,11.8],[0.96,14.3],[1.03,15.9],[1.11,13.4],[1.17,16.9],[1.27,15.9],[1.33,16.2],[1.39,13.4],[1.5,11.8],[1.58,9.5],[1.64,10.2],[1.71,9.2],[1.78,10.5],[1.83,11.1],[1.89,7.6],[1.97,6.0],[2.04,7.0],[2.11,7.9],[2.2,7.0],[2.3,7.9],[2.39,6.3],[2.48,3.8],[2.58,2.5],[2.67,2.2],[2.76,3.5],[2.86,2.5],[3.05,2.8],[3.19,3.5],[3.28,3.8],[3.36,4.8],[3.45,6.0],[3.54,5.4],[3.64,4.9],[3.75,5.1],[3.84,4.9],[3.94,5.4],[4.03,5.7]];
const totCoBlack = [[-10.2,0],[-8.06,0],[-7.97,0.57],[-7.87,1.85],[-7.78,3.1],[-7.68,4.1],[-7.59,6.3],[-7.52,9.5],[-7.47,12.6],[-7.4,13.3],[-7.36,11.1],[-7.29,10.7],[-7.24,12.6],[-7.17,14.2],[-7.12,12.7],[-7.06,10.1],[-7.03,7.9],[-6.94,5.3],[-6.84,3.8],[-6.75,2.8],[-6.65,3.5],[-6.56,4.1],[-6.47,6.0],[-6.37,6.6],[-6.28,7.6],[-6.19,8.2],[-6.09,8.9],[-6.02,11.1],[-5.95,15.9],[-5.9,21.6],[-5.86,24.1],[-5.81,19.0],[-5.74,14.2],[-5.62,13.3],[-5.53,14.2],[-5.45,19.0],[-5.42,25.4],[-5.38,29.2],[-5.34,25.4],[-5.3,19.0],[-5.25,15.9],[-5.2,11.1],[-5.15,7.9],[-5.11,4.8],[-5.06,1.5],[-5.01,0.1],[-4.12,0],[-3.94,0.73],[-3.8,1.2],[-3.7,1.85],[-3.61,3.1],[-3.51,5.0],[-3.42,6.9],[-3.36,9.5],[-3.3,14.2],[-3.23,20.6],[-3.19,25.4],[-3.14,28.6],[-3.09,34.9],[-3.05,41.3],[-3.0,44.5],[-2.95,47.4],[-2.91,49.0],[-2.86,41.3],[-2.81,31.8],[-2.76,22.3],[-2.72,15.9],[-2.67,12.7],[-2.58,11.8],[-2.48,12.7],[-2.39,14.3],[-2.3,16.2],[-2.2,17.5],[-2.11,25.7],[-2.06,27.9],[-2.01,34.9],[-1.97,38.2],[-1.92,36.6],[-1.87,38.2],[-1.83,39.8],[-1.8,44.5],[-1.76,49.4],[-1.73,42.9],[-1.69,31.8],[-1.64,19.0],[-1.59,14.3],[-1.5,15.9],[-1.42,18.5],[-1.36,20.0],[-1.29,25.4],[-1.24,31.8],[-1.2,37.2],[-1.14,28.7],[-1.08,20.0],[-1.0,23.2],[-0.94,25.4],[-0.86,17.8],[-0.8,12.7],[-0.73,9.5],[-0.66,4.4],[-0.56,5.1],[-0.49,7.0],[-0.42,10.2],[-0.37,12.7],[-0.3,14.6],[-0.17,12.7],[-0.02,9.5],[0.17,8.2],[0.37,7.3],[0.45,8.3],[0.52,7.9],[0.56,4.7],[0.61,1.85],[0.66,1.5],[0.7,4.4],[0.77,15.9],[0.82,22.3],[0.86,15.9],[0.94,11.1],[1.03,9.5],[1.11,7.9],[1.17,11.1],[1.24,13.4],[1.31,15.3],[1.39,19.7],[1.45,22.6],[1.52,23.9],[1.59,22.3],[1.67,17.5],[1.73,17.5],[1.8,25.4],[1.85,27.9],[1.89,23.9],[1.95,19.1],[2.01,12.7],[2.08,9.5],[2.16,7.9],[2.34,6.6],[2.62,5.7],[2.9,5.1],[3.19,4.8],[3.33,5.7],[3.47,5.7],[3.56,4.1],[3.66,2.8],[3.75,2.2],[3.84,1.5],[3.94,1.0],[4.03,1.5]];

// ---------- NiMnS ----------
const mnNiRed = [[-10.2,0],[-8.92,0],[-8.74,0.14],[-8.6,0.34],[-8.46,0.58],[-8.36,0.76],[-8.29,0.58],[-8.22,1.0],[-8.13,0.83],[-7.85,1.1],[-7.71,0.83],[-7.52,0.69],[-7.15,0.76],[-6.77,0.93],[-6.63,1.17],[-6.54,1.96],[-6.45,1.79],[-6.35,2.2],[-6.26,1.72],[-6.16,2.13],[-6.07,1.51],[-5.98,1.79],[-5.88,1.62],[-5.79,1.1],[-5.56,0.93],[-5.46,0.41],[-5.28,0.24],[-5.08,0.07],[-4.05,0.07],[-3.96,0.76],[-3.87,3.85],[-3.77,6.3],[-3.7,8.1],[-3.63,7.2],[-3.57,4.5],[-3.49,5.2],[-3.42,5.9],[-3.35,4.5],[-3.26,4.8],[-3.16,3.8],[-3.07,2.8],[-2.98,2.4],[-2.89,3.5],[-2.82,6.6],[-2.77,7.2],[-2.7,5.2],[-2.64,5.9],[-2.56,7.2],[-2.48,8.3],[-2.42,6.6],[-2.35,5.2],[-2.29,6.2],[-2.24,10.0],[-2.18,14.2],[-2.13,14.2],[-2.07,10.7],[-1.99,7.3],[-1.92,3.85],[-1.83,2.5],[-1.76,3.85],[-1.71,7.3],[-1.64,9.7],[-1.57,10.7],[-1.5,8.3],[-1.43,11.0],[-1.36,10.3],[-1.29,8.9],[-1.2,7.2],[-1.1,3.85],[-1.04,1.44],[-0.96,1.44],[-0.87,1.96],[-0.78,2.8],[-0.68,5.4],[-0.61,3.85],[-0.54,3.85],[-0.45,6.6],[-0.38,7.2],[-0.31,5.2],[-0.23,3.5],[-0.14,4.5],[0.07,4.5],[0.16,4.1],[0.25,4.5],[0.35,5.2],[0.44,7.6],[0.53,6.6],[0.63,4.5],[0.7,5.2],[0.8,6.2],[0.89,3.5],[0.96,3.5],[1.05,5.2],[1.12,5.9],[1.21,3.85],[1.28,7.2],[1.36,9.3],[1.45,10.0],[1.52,12.4],[1.58,13.8],[1.64,10.7],[1.7,9.0],[1.77,7.2],[1.82,4.5],[1.89,6.6],[1.95,6.9],[2.03,8.0],[2.11,5.2],[2.2,3.85],[2.31,3.2],[2.4,2.8],[2.5,1.1],[2.59,0.83],[2.87,1.44],[3.01,2.3],[3.11,1.79],[3.39,1.51],[3.53,1.72],[3.67,1.38],[4.0,1.62]];
const mnNiBlack = [[-10.2,0],[-8.64,-0.1],[-7.89,0.07],[-7.61,0.24],[-7.33,0.58],[-7.09,1.1],[-7.05,1.62],[-6.96,0.76],[-6.58,0.93],[-6.39,0.24],[-6.2,0.41],[-5.83,0.76],[-5.69,1.1],[-5.6,2.13],[-5.53,3.35],[-5.46,3.0],[-5.37,1.79],[-5.23,1.03],[-4.95,0.93],[-4.85,1.79],[-4.78,1.96],[-4.71,0.76],[-4.63,0.07],[-4.05,0],[-3.87,0.24],[-3.73,0.76],[-3.63,1.79],[-3.57,2.5],[-3.49,4.5],[-3.4,8.0],[-3.33,10.0],[-3.26,13.5],[-3.22,17.6],[-3.17,20.7],[-3.12,21.7],[-3.07,18.6],[-3.03,15.9],[-2.98,11.4],[-2.93,6.6],[-2.88,3.85],[-2.79,2.8],[-2.51,3.2],[-2.37,3.7],[-2.29,2.1],[-2.23,3.85],[-2.16,6.6],[-2.1,6.3],[-2.04,5.2],[-1.96,3.5],[-1.9,2.5],[-1.85,1.44],[-1.8,2.5],[-1.76,6.3],[-1.71,8.0],[-1.64,8.6],[-1.57,7.6],[-1.5,8.0],[-1.43,10.0],[-1.36,13.5],[-1.32,14.2],[-1.26,12.2],[-1.2,9.4],[-1.1,7.2],[-1.01,7.2],[-0.92,6.2],[-0.82,5.2],[-0.73,4.2],[-0.64,3.2],[-0.54,2.5],[-0.45,2.1],[-0.33,2.5],[-0.22,2.8],[-0.12,2.1],[-0.03,0.76],[0.07,0.24],[0.16,0.07],[0.3,0.24],[0.44,0.76],[0.58,1.1],[0.72,2.5],[0.86,3.85],[0.96,5.2],[1.02,6.9],[1.08,5.2],[1.14,2.5],[1.21,3.85],[1.28,5.6],[1.36,8.0],[1.42,10.0],[1.49,11.4],[1.56,13.1],[1.64,17.6],[1.69,20.0],[1.73,18.3],[1.77,15.5],[1.83,17.6],[1.89,19.3],[1.96,18.3],[2.01,14.8],[2.05,10.0],[2.11,6.6],[2.17,4.2],[2.27,3.5],[2.55,2.5],[2.69,2.1],[2.83,2.5],[2.97,1.79],[3.34,1.28],[3.71,1.1],[4.0,0.76]];
const niRed = [[-10.2,0],[-8.97,0],[-8.83,0.28],[-8.69,0.55],[-8.55,0.79],[-8.46,1.14],[-8.36,0.96],[-8.27,1.31],[-8.18,1.03],[-8.08,1.31],[-7.8,1.14],[-7.66,0.89],[-7.52,0.89],[-7.15,1.14],[-6.77,1.31],[-6.63,1.65],[-6.54,2.2],[-6.45,2.3],[-6.35,2.2],[-6.26,2.7],[-6.16,3.4],[-6.07,2.3],[-6.0,2.0],[-5.91,2.7],[-5.82,2.0],[-5.73,1.48],[-5.6,1.65],[-5.53,2.0],[-5.46,0.96],[-5.37,0.28],[-5.08,0.1],[-4.71,0],[-4.05,0.1],[-3.96,1.31],[-3.87,4.1],[-3.77,6.5],[-3.7,7.4],[-3.63,6.5],[-3.57,5.5],[-3.49,4.8],[-3.42,5.8],[-3.35,6.9],[-3.29,8.3],[-3.23,10.0],[-3.16,8.9],[-3.02,8.3],[-2.93,8.6],[-2.86,13.4],[-2.79,19.9],[-2.75,18.6],[-2.7,14.1],[-2.63,11.0],[-2.58,12.0],[-2.51,14.7],[-2.46,14.1],[-2.4,14.7],[-2.33,16.1],[-2.26,20.2],[-2.21,23.7],[-2.14,22.7],[-2.1,20.2],[-2.02,16.8],[-1.96,13.4],[-1.89,8.6],[-1.81,6.9],[-1.77,8.3],[-1.72,10.0],[-1.64,12.0],[-1.58,11.0],[-1.51,12.0],[-1.44,14.1],[-1.36,12.7],[-1.29,10.7],[-1.2,10.0],[-1.13,7.9],[-1.06,4.8],[-0.98,4.5],[-0.92,5.8],[-0.85,4.1],[-0.78,3.8],[-0.68,5.5],[-0.59,4.1],[-0.5,3.8],[-0.4,4.8],[-0.33,3.0],[-0.23,2.7],[-0.14,3.0],[-0.05,2.2],[0.07,3.0],[0.25,3.2],[0.35,3.5],[0.44,4.5],[0.51,3.0],[0.58,2.0],[0.77,1.65],[0.91,1.31],[1.0,0.96],[1.1,1.31],[1.38,1.48],[1.61,1.65],[1.81,1.14],[2.0,1.65],[2.09,1.82],[2.23,1.14],[2.41,0.79],[2.6,0.69],[2.97,0.96],[3.16,0.96],[3.34,0.55],[3.53,0.79],[4.0,0.89]];
const niBlack = [[-10.2,0],[-8.64,-0.1],[-7.89,0],[-7.61,0.1],[-7.33,0.45],[-7.15,0.96],[-7.01,1.65],[-6.92,1.48],[-6.77,1.31],[-6.58,0.89],[-6.39,0.45],[-6.02,0.79],[-5.83,0.96],[-5.69,1.65],[-5.6,3.0],[-5.51,4.4],[-5.44,3.7],[-5.37,2.3],[-5.09,2.5],[-4.99,3.0],[-4.92,4.7],[-4.85,6.1],[-4.79,4.4],[-4.71,3.0],[-4.64,1.65],[-4.57,0.62],[-4.5,0.1],[-4.24,0],[-3.96,0.1],[-3.82,0.45],[-3.68,1.31],[-3.59,2.3],[-3.51,3.7],[-3.45,5.8],[-3.38,7.9],[-3.32,10.6],[-3.26,14.1],[-3.21,18.6],[-3.18,20.6],[-3.14,16.8],[-3.1,13.4],[-3.04,9.9],[-2.98,6.5],[-2.91,4.5],[-2.84,4.1],[-2.67,5.0],[-2.6,6.4],[-2.53,8.4],[-2.46,10.8],[-2.38,13.2],[-2.33,14.9],[-2.26,16.6],[-2.13,18.0],[-2.09,18.3],[-2.04,21.4],[-1.99,22.8],[-1.95,24.9],[-1.9,27.7],[-1.85,29.1],[-1.8,26.4],[-1.76,20.2],[-1.71,16.8],[-1.66,13.4],[-1.6,11.7],[-1.54,13.4],[-1.48,15.1],[-1.41,16.8],[-1.36,19.3],[-1.32,18.3],[-1.26,16.8],[-1.2,13.4],[-1.11,11.7],[-1.01,10.7],[-0.92,11.7],[-0.85,10.0],[-0.78,6.5],[-0.68,4.4],[-0.59,3.4],[-0.45,3.0],[-0.31,2.3],[-0.17,1.65],[-0.07,0.96],[0,0.28],[0.07,-0.07],[0.3,0.45],[0.53,1.31],[0.67,2.0],[0.81,2.3],[1.09,2.0],[1.38,2.7],[1.47,3.0],[1.56,3.7],[1.65,4.4],[1.75,4.1],[1.84,3.4],[2.03,2.3],[2.31,1.14],[2.5,0.79],[3.06,0.96],[3.34,0.62],[4.0,0.89]];
const totNiRed = [[-10.2,0],[-8.97,0],[-8.88,0.89],[-8.78,1.85],[-8.69,2.5],[-8.6,3.1],[-8.52,4.4],[-8.46,5.4],[-8.41,4.4],[-8.34,4.1],[-8.29,6.3],[-8.25,7.5],[-8.2,6.3],[-8.13,5.7],[-8.07,6.3],[-7.99,7.6],[-7.92,7.9],[-7.85,7.6],[-7.78,7.0],[-7.71,6.3],[-7.61,5.4],[-7.54,5.6],[-7.43,4.6],[-7.33,5.1],[-7.24,5.9],[-7.05,6.1],[-6.86,6.3],[-6.77,6.6],[-6.67,7.3],[-6.6,8.9],[-6.53,13.4],[-6.47,11.2],[-6.39,15.0],[-6.31,14.1],[-6.25,12.8],[-6.18,15.3],[-6.13,17.6],[-6.07,12.8],[-6.02,10.9],[-5.96,12.8],[-5.91,13.7],[-5.83,11.2],[-5.76,8.0],[-5.63,8.6],[-5.55,8.6],[-5.48,6.4],[-5.41,3.5],[-5.35,2.5],[-5.27,2.8],[-5.2,1.85],[-5.1,0.89],[-5.01,0.25],[-4.9,0],[-4.24,0],[-4.1,0.25],[-4.01,0.89],[-3.96,3.1],[-3.89,8.0],[-3.82,10.5],[-3.75,15.9],[-3.7,19.7],[-3.63,18.2],[-3.58,14.4],[-3.53,10.5],[-3.47,14.4],[-3.42,15.0],[-3.35,12.1],[-3.29,13.4],[-3.23,17.6],[-3.19,18.8],[-3.14,16.3],[-3.07,14.4],[-2.93,14.1],[-2.86,19.2],[-2.81,28.7],[-2.76,32.8],[-2.73,27.1],[-2.67,19.5],[-2.63,20.4],[-2.57,22.4],[-2.51,27.4],[-2.44,25.6],[-2.36,23.6],[-2.29,27.4],[-2.26,35.1],[-2.22,39.9],[-2.18,42.4],[-2.13,41.4],[-2.07,35.1],[-2.01,25.6],[-1.95,16.0],[-1.88,11.8],[-1.81,10.5],[-1.76,12.8],[-1.71,17.6],[-1.64,22.4],[-1.57,24.9],[-1.51,22.4],[-1.45,27.1],[-1.39,27.4],[-1.32,25.6],[-1.27,21.4],[-1.2,20.8],[-1.13,15.9],[-1.06,9.6],[-1.01,6.4],[-0.95,9.6],[-0.89,7.0],[-0.82,6.4],[-0.76,9.6],[-0.68,13.0],[-0.61,11.2],[-0.54,9.6],[-0.45,12.1],[-0.38,15.6],[-0.31,12.8],[-0.23,8.0],[-0.14,10.5],[-0.07,8.6],[-0.01,8.3],[0.07,10.2],[0.25,10.9],[0.35,12.1],[0.42,15.0],[0.49,13.4],[0.55,10.9],[0.63,7.7],[0.7,9.6],[0.77,9.9],[0.83,7.3],[0.91,5.4],[0.98,7.0],[1.05,8.6],[1.11,8.0],[1.21,7.3],[1.28,9.9],[1.36,12.5],[1.42,13.1],[1.49,12.8],[1.55,15.9],[1.58,18.5],[1.64,15.9],[1.7,13.7],[1.77,9.6],[1.83,7.0],[1.89,9.9],[1.96,11.2],[2.01,13.4],[2.08,11.2],[2.14,9.6],[2.22,6.7],[2.31,6.4],[2.41,5.7],[2.48,3.5],[2.55,2.8],[2.64,3.5],[2.83,4.5],[2.92,4.8],[3.02,6.4],[3.11,5.1],[3.3,4.8],[3.39,3.8],[3.48,4.8],[3.58,5.4],[3.67,4.2],[3.81,4.5],[4.0,4.8]];
const totNiBlack = [[-10.2,0],[-7.99,-0.06],[-7.85,0.1],[-7.71,0.73],[-7.57,1.5],[-7.43,2.5],[-7.29,3.8],[-7.19,5.4],[-7.13,7.3],[-7.08,11.1],[-7.05,13.4],[-7.0,11.1],[-6.96,7.9],[-6.91,9.5],[-6.86,7.9],[-6.79,9.5],[-6.72,11.1],[-6.67,12.1],[-6.62,7.9],[-6.56,5.3],[-6.49,4.4],[-6.4,3.5],[-6.3,3.1],[-6.21,4.1],[-6.0,4.7],[-5.93,5.7],[-5.83,7.3],[-5.74,8.6],[-5.65,10.2],[-5.58,14.4],[-5.53,19.8],[-5.5,23.0],[-5.46,20.4],[-5.41,16.0],[-5.37,12.8],[-5.27,11.8],[-5.2,11.2],[-5.13,11.5],[-5.04,12.8],[-4.97,14.1],[-4.92,19.2],[-4.88,25.6],[-4.85,30.0],[-4.82,27.2],[-4.79,19.2],[-4.75,16.0],[-4.71,12.8],[-4.66,9.6],[-4.6,5.4],[-4.54,1.85],[-4.48,0.57],[-4.15,0.1],[-4.01,0.41],[-3.87,0.89],[-3.73,1.85],[-3.67,2.5],[-3.59,4.7],[-3.54,6.3],[-3.52,9.6],[-3.47,14.4],[-3.42,19.2],[-3.38,22.4],[-3.34,21.7],[-3.31,28.7],[-3.26,33.5],[-3.23,38.3],[-3.19,44.7],[-3.16,47.9],[-3.11,41.5],[-3.07,31.9],[-3.02,25.6],[-2.97,19.2],[-2.93,12.8],[-2.88,9.6],[-2.79,7.7],[-2.73,8.6],[-2.67,9.6],[-2.6,12.8],[-2.54,16.0],[-2.46,19.2],[-2.39,19.8],[-2.33,21.4],[-2.26,17.6],[-2.2,20.8],[-2.14,25.6],[-2.09,28.8],[-2.04,31.9],[-2.0,33.5],[-1.95,31.3],[-1.9,33.5],[-1.85,38.3],[-1.81,42.1],[-1.76,36.7],[-1.71,31.9],[-1.66,28.8],[-1.6,20.1],[-1.54,19.2],[-1.48,20.8],[-1.43,25.6],[-1.39,28.8],[-1.34,37.6],[-1.29,35.1],[-1.25,30.4],[-1.2,25.6],[-1.13,22.4],[-1.06,20.8],[-0.98,19.2],[-0.92,21.4],[-0.85,17.6],[-0.78,12.8],[-0.68,9.6],[-0.59,8.0],[-0.5,7.0],[-0.31,6.3],[-0.12,6.8],[-0.05,6.0],[0,3.1],[0.05,0.89],[0.11,0.26],[0.3,0.57],[0.39,0.89],[0.49,1.85],[0.55,3.5],[0.63,4.7],[0.72,5.7],[0.8,8.0],[0.86,10.2],[0.93,11.2],[1.0,13.4],[1.05,10.2],[1.12,8.9],[1.19,7.7],[1.26,8.6],[1.33,10.2],[1.4,14.1],[1.45,16.6],[1.52,18.2],[1.58,20.1],[1.64,25.6],[1.69,29.4],[1.73,25.6],[1.77,22.4],[1.83,25.6],[1.89,29.4],[1.94,28.8],[1.98,23.6],[2.03,17.3],[2.08,12.8],[2.17,10.2],[2.27,7.3],[2.46,6.3],[2.65,4.5],[2.74,5.1],[2.83,5.7],[2.97,5.1],[3.11,4.8],[3.25,5.1],[3.39,4.5],[3.71,4.5],[4.0,3.8]];

// ---------- layout ----------
const seriesByPanel = [
  [[crRed,crBlack],[ptCrRed,ptCrBlack],[totCrRed,totCrBlack]],
  [[feRed,feBlack],[ptFeRed,ptFeBlack],[totFeRed,totFeBlack]],
  [[mnCoRed,mnCoBlack],[coRed,coBlack],[totCoRed,totCoBlack]],
  [[mnNiRed,mnNiBlack],[niRed,niBlack],[totNiRed,totNiBlack]]
];
const offsetsByPanel = [offsPtCrAs, offsPtFeAs, offsCoMnS, offsNiMnS];

const panels = [
  {left:347, right:1491, top:110, bottom:1550, xmin:-10.2, xmax:4.19, cx:1225, cy:609,
   labels:[[412,366],[420,699],[448,1268]], tickLabelY:null},
  {left:1525, right:2653, top:110, bottom:1550, xmin:-10.18, xmax:4.14, cx:2396, cy:696,
   labels:[[1528,324],[1531,618],[1592,1209]], tickLabelY:null},
  {left:341, right:1485, top:1577, bottom:3026, xmin:-10.18, xmax:4.125, cx:1204, cy:2107,
   labels:[[394,1856],[399,2194],[427,2582]], tickLabelY:3107, titleX:967, titleY:3218},
  {left:1516, right:2650, top:1580, bottom:3026, xmin:-10.19, xmax:4.09, cx:2416, cy:2091,
   labels:[[1518,1815],[1524,2226],[1564,2704]], tickLabelY:3129, titleX:2071, titleY:3236}
];

const svg = d3.select("#c");
svg.append("rect").attr("width",2880).attr("height",3328).attr("fill","#fff");

panels.forEach((p, i) => {
  const x = d3.scaleLinear().domain([p.xmin, p.xmax]).range([p.left, p.right]);
  const y = d3.scaleLinear().domain([0, 100]).range([p.bottom, p.top]);
  const g = svg.append("g");
  const clipId = "clip" + i;
  svg.append("clipPath").attr("id", clipId).append("rect")
    .attr("x", p.left).attr("y", p.top).attr("width", p.right - p.left).attr("height", p.bottom - p.top);

  const plot = g.append("g").attr("clip-path", `url(#${clipId})`);

  // Fermi level dotted line
  plot.append("line").attr("x1", x(0)).attr("x2", x(0)).attr("y1", p.top).attr("y2", p.bottom)
    .attr("stroke", "#000").attr("stroke-width", 6).attr("stroke-dasharray", "6,6");

  seriesByPanel[i].forEach((pair, j) => {
    const base = offsetsByPanel[i][j];
    const line = d3.line().x(d => x(d[0])).y(d => y(base + d[1]));
    plot.append("path").datum(pair[1]).attr("d", line).attr("fill", "none")
      .attr("stroke", "#000").attr("stroke-width", 7).attr("stroke-dasharray", "25,13")
      .attr("stroke-linejoin", "round");
    plot.append("path").datum(pair[0]).attr("d", line).attr("fill", "none")
      .attr("stroke", "#ff0000").attr("stroke-width", 7).attr("stroke-linejoin", "round");
    g.append("text").attr("x", p.labels[j][0]).attr("y", p.labels[j][1])
      .attr("font-size", 73).attr("fill", "#000").text(curveNames[i][j]);
  });

  g.append("text").attr("x", p.cx).attr("y", p.cy).attr("font-size", 73).attr("fill", "#000").text(compounds[i]);

  // ticks (inward), minor and major, top and bottom
  const minor = energyTicks.filter(t => !energyMajor.includes(t));
  const mk = (axisFn, vals, size, ty) => {
    const a = g.append("g").attr("transform", `translate(0,${ty})`)
      .call(axisFn(x).tickValues(vals).tickSizeInner(-size).tickSizeOuter(0).tickFormat(""));
    a.select(".domain").remove();
    a.selectAll("text").remove();
    a.selectAll("line").attr("stroke", "#000").attr("stroke-width", 7);
  };
  mk(d3.axisBottom, minor, 18, p.bottom);
  mk(d3.axisBottom, energyMajor, 37, p.bottom);
  mk(d3.axisTop, minor, 18, p.top);
  mk(d3.axisTop, energyMajor, 37, p.top);

  // frame
  g.append("rect").attr("x", p.left).attr("y", p.top).attr("width", p.right - p.left).attr("height", p.bottom - p.top)
    .attr("fill", "none").attr("stroke", "#000").attr("stroke-width", 9);

  if (p.tickLabelY) {
    const la = g.append("g").attr("transform", `translate(0,${p.bottom})`)
      .call(d3.axisBottom(x).tickValues(energyLabels).tickSize(0).tickFormat(d => String(d)));
    la.select(".domain").remove();
    la.selectAll("line").remove();
    la.selectAll("text").attr("y", p.tickLabelY - p.bottom).attr("dy", 0)
      .attr("font-size", 94).attr("fill", "#000")
      .attr("font-family", '"Liberation Sans",Arial,sans-serif');
    g.append("text").attr("x", p.titleX).attr("y", p.titleY).attr("text-anchor", "middle")
      .attr("font-size", 94).attr("fill", "#000").text("Binding energy (eV)");
  }
});

// y-axis titles
[[308, 786], [300, 2218]].forEach(([tx, ty]) => {
  svg.append("text").attr("transform", `translate(${tx},${ty}) rotate(-90)`)
    .attr("text-anchor", "middle").attr("font-size", 94).attr("fill", "#000")
    .text("DOS (States/eV f.u.)");
});
</script>
</body></html>
